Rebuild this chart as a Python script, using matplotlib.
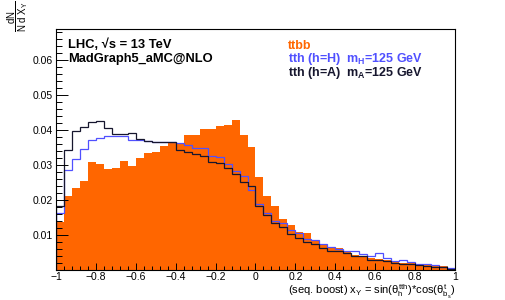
import numpy as np
import matplotlib
matplotlib.use("Agg")
import matplotlib.pyplot as plt
from matplotlib.ticker import MultipleLocator

plt.rcParams['font.family'] = ['Liberation Sans', 'DejaVu Sans']
plt.rcParams['mathtext.fontset'] = 'custom'
plt.rcParams['mathtext.rm'] = 'Liberation Sans'
plt.rcParams['mathtext.it'] = 'Liberation Sans'
plt.rcParams['mathtext.bf'] = 'Liberation Sans:bold'

# 50 bins from -1 to 1, normalised to unit sum
ttbb = [0.0138, 0.0212, 0.0234, 0.0255, 0.0308, 0.0302, 0.0290, 0.0291, 0.0311, 0.0297,
        0.0321, 0.0335, 0.0338, 0.0355, 0.0365, 0.0364, 0.0386, 0.0386, 0.0402, 0.0402,
        0.0413, 0.0415, 0.0430, 0.0387, 0.0352, 0.0265, 0.0211, 0.0182, 0.0145, 0.0130,
        0.0109, 0.0105, 0.0086, 0.0074, 0.0066, 0.0062, 0.0054, 0.0044, 0.0040, 0.0033,
        0.0032, 0.0029, 0.0027, 0.0021, 0.0020, 0.0017, 0.0015, 0.0012, 0.0011, 0.0006]

tth_H = [0.0163, 0.0286, 0.0317, 0.0347, 0.0372, 0.0376, 0.0383, 0.0383, 0.0384, 0.0371,
         0.0373, 0.0369, 0.0365, 0.0366, 0.0367, 0.0362, 0.0357, 0.0350, 0.0348, 0.0327,
         0.0324, 0.0303, 0.0284, 0.0269, 0.0229, 0.0190, 0.0162, 0.0141, 0.0133, 0.0114,
         0.0107, 0.0090, 0.0086, 0.0074, 0.0067, 0.0059, 0.0054, 0.0054, 0.0045, 0.0039,
         0.0048, 0.0033, 0.0027, 0.0030, 0.0024, 0.0018, 0.0016, 0.0014, 0.0010, 0.0005]

tth_A = [0.0182, 0.0344, 0.0397, 0.0409, 0.0423, 0.0426, 0.0405, 0.0388, 0.0390, 0.0391,
         0.0375, 0.0370, 0.0365, 0.0365, 0.0366, 0.0343, 0.0337, 0.0333, 0.0327, 0.0309,
         0.0306, 0.0293, 0.0274, 0.0251, 0.0240, 0.0183, 0.0157, 0.0135, 0.0122, 0.0103,
         0.0092, 0.0081, 0.0074, 0.0062, 0.0054, 0.0054, 0.0048, 0.0040, 0.0039, 0.0030,
         0.0030, 0.0027, 0.0021, 0.0018, 0.0016, 0.0013, 0.0012, 0.0010, 0.0008, 0.0004]

xticks = [-1, -0.8, -0.6, -0.4, -0.2, 0, 0.2, 0.4, 0.6, 0.8, 1]
xticklabels = ['\u22121', '\u22120.8', '\u22120.6', '\u22120.4', '\u22120.2', '0',
               '0.2', '0.4', '0.6', '0.8', '1']
yticks = [0.01, 0.02, 0.03, 0.04, 0.05, 0.06]

edges = np.linspace(-1, 1, len(ttbb) + 1)

orange = '#ff6600'
blue = '#5050ff'
dark = '#16162e'

fig = plt.figure(figsize=(5.06, 3.0), dpi=100)
ax = fig.add_axes([56/506, 30/300, 399/506, 241/300])

ax.stairs(ttbb, edges, fill=True, color=orange, lw=0)
ax.stairs(tth_H, edges, color=blue, lw=0.9)
ax.stairs(tth_A, edges, color=dark, lw=0.9)

ax.set_xlim(-1, 1)
ax.set_ylim(0, 0.0689)

ax.set_xticks(xticks)
ax.set_xticklabels(xticklabels)
ax.xaxis.set_minor_locator(MultipleLocator(0.04))
ax.set_yticks(yticks)
ax.yaxis.set_minor_locator(MultipleLocator(0.002))

ax.tick_params(which='both', direction='in', top=False, right=False, labelsize=7.5, width=0.7)
ax.tick_params(axis='x', which='major', length=5, pad=1.5)
ax.tick_params(axis='x', which='minor', length=2.6)
ax.tick_params(axis='y', which='major', length=8.6, pad=2.5)
ax.tick_params(axis='y', which='minor', length=4.3)
for s in ax.spines.values():
    s.set_linewidth(0.8)

fig.text(68/506, 1 - 45/300, 'LHC, \u221as = 13 TeV', fontsize=9.3, fontweight='bold', va='center')
fig.text(68/506, 1 - 59/300, 'MadGraph5_aMC@NLO', fontsize=9.3, fontweight='bold', va='center')

fig.text(288/506, 1 - 46/300, 'ttbb', fontsize=9, fontweight='bold', color=orange, va='center')
fig.text(288/506, 1 - 59/300, r'tth (h=H)  m$_{\mathbf{H}}$=125 GeV', fontsize=9,
         fontweight='bold', color=blue, va='center')
fig.text(288/506, 1 - 73/300, r'tth (h=A)  m$_{\mathbf{A}}$=125 GeV', fontsize=9,
         fontweight='bold', color=dark, va='center')

fig.text(18/506, 1 - 16/300, r'$\dfrac{\mathrm{dN}}{\mathrm{N\ d\ X_{Y}}}$', fontsize=7,
         rotation=90, ha='center', va='center')
fig.text(455/506, 1 - 295/300,
         r'(seq. boost) x$_{\mathrm{Y}}$ = sin($\theta_{\mathrm{h}}^{\mathrm{tth}}$)*cos($\theta_{\mathrm{b_s}}^{\mathrm{t}}$)',
         fontsize=8, ha='right', va='baseline')

fig.savefig('out.png', dpi=100)
